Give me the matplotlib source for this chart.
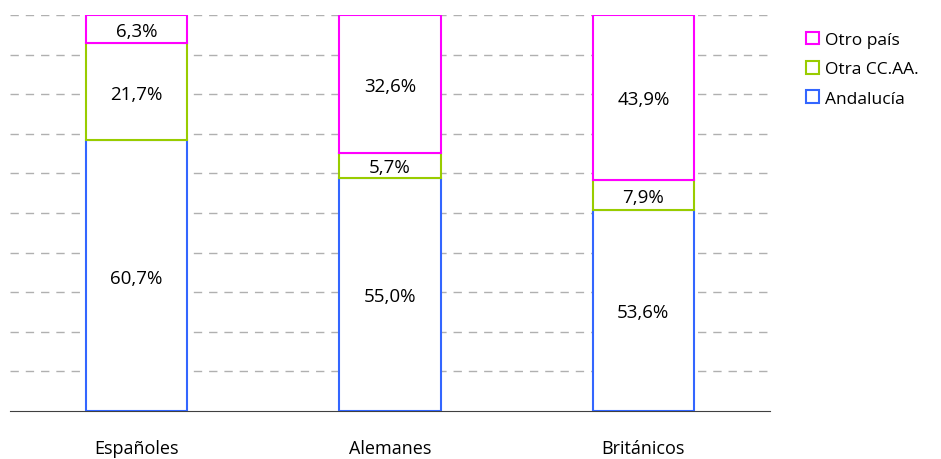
import numpy as np
import matplotlib
matplotlib.use("Agg")
import matplotlib.pyplot as plt
from matplotlib.patches import Patch

plt.rcParams['font.family'] = ['Open Sans', 'DejaVu Sans']

categories = ['Españoles', 'Alemanes', 'Británicos']
series = ['Andalucía', 'Otra CC.AA.', 'Otro país']
andalucia = [60.7, 55.0, 53.6]
otra_ccaa = [21.7, 5.7, 7.9]
otro_pais = [6.3, 32.6, 43.9]
colors = ['#3366FF', '#99CC00', '#FF00FF']

values = np.array([andalucia, otra_ccaa, otro_pais])
shares = values / values.sum(axis=0) * 100

fig = plt.figure(figsize=(9.41, 4.60), dpi=100)
ax = fig.add_axes([10 / 941, 48 / 460, 760 / 941, 396 / 460])

x = np.arange(len(categories))
bottom = np.zeros(len(categories))
for vals, raw, col in zip(shares, values, colors):
    ax.bar(x, vals, 0.4, bottom=bottom, facecolor='white', edgecolor=col,
           linewidth=1.5, zorder=3)
    for xi, b, v, r in zip(x, bottom, vals, raw):
        ax.text(xi, b + v / 2, f'{r:.1f}%'.replace('.', ','), ha='center',
                va='center_baseline', fontsize=13.5, zorder=4)
    bottom += vals

ax.set_xlim(-0.5, 2.5)
ax.set_ylim(0, 100)
ax.set_yticks(np.arange(10, 101, 10))
ax.yaxis.grid(True, color='#B0B0B0', linestyle=(0, (6, 5)), linewidth=1)
ax.set_axisbelow(True)
ax.tick_params(left=False, labelleft=False, bottom=False)
ax.set_xticks(x)
ax.set_xticklabels(categories, fontsize=13)
ax.tick_params(axis='x', pad=17)
for s in ['top', 'right', 'left']:
    ax.spines[s].set_visible(False)
ax.spines['bottom'].set_color('#404040')

handles = [Patch(facecolor='white', edgecolor=c, linewidth=1.5, label=l)
           for c, l in zip(colors[::-1], series[::-1])]
fig.legend(handles=handles, loc='upper left', bbox_to_anchor=(790 / 941, 1 - 17 / 460),
           frameon=False, fontsize=12.5, handlelength=0.75, handleheight=0.75,
           handletextpad=0.35, labelspacing=0.75)

fig.savefig('out.png', dpi=100)
